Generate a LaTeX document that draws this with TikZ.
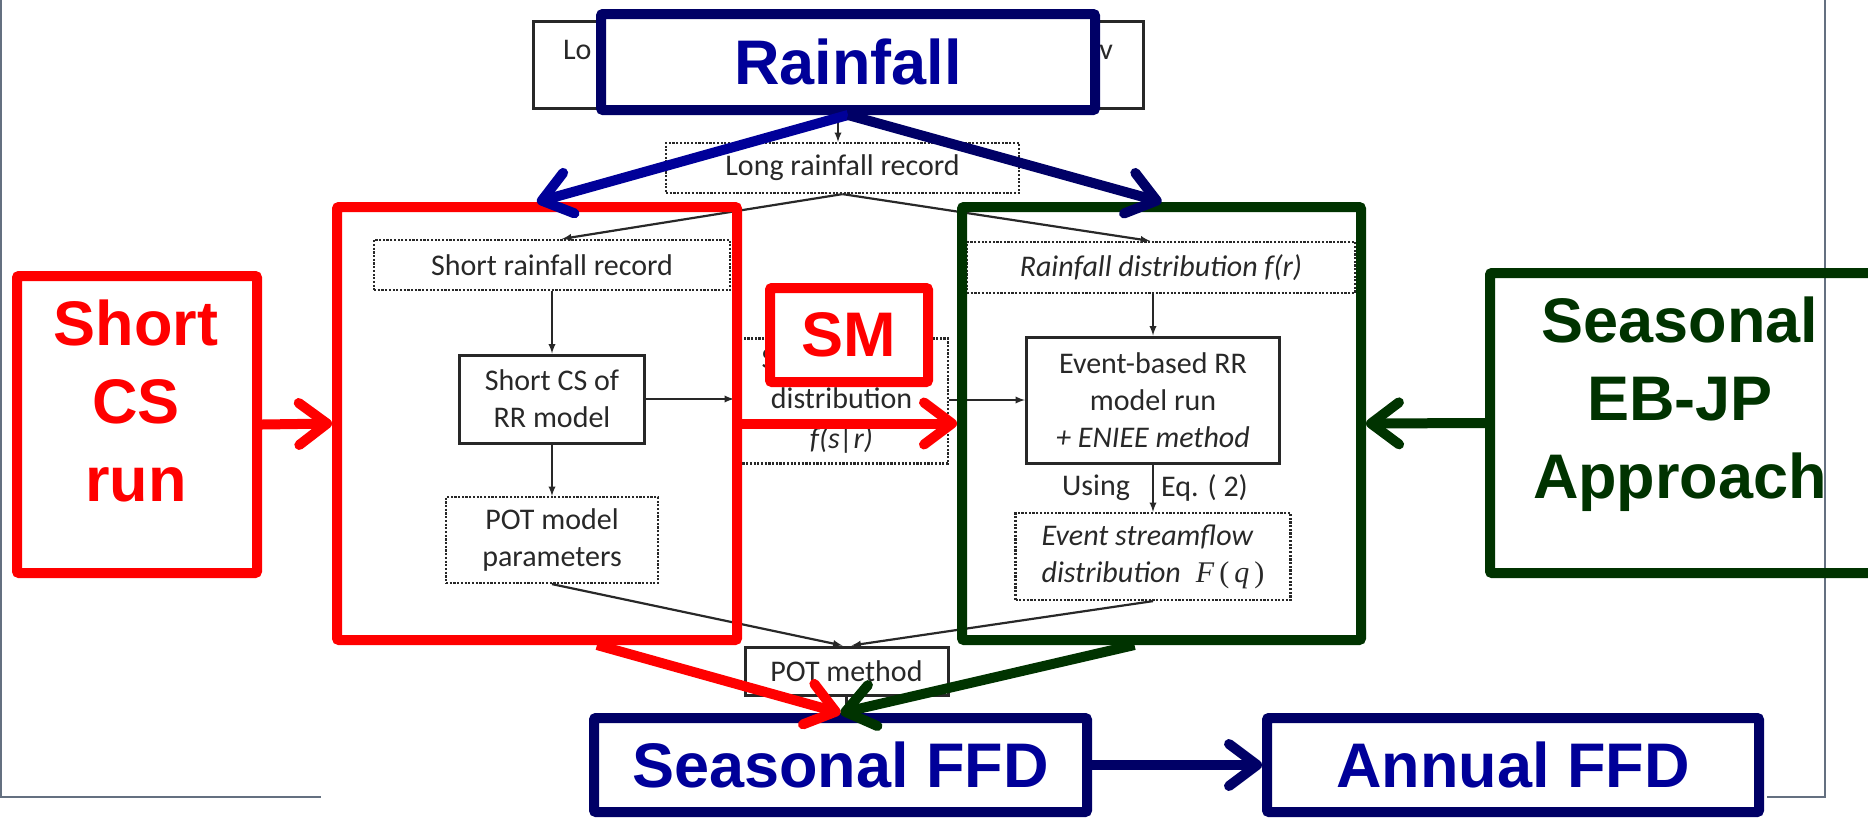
\documentclass[tikz,border=0pt]{standalone}
\usepackage{fontspec}
\setmainfont{Carlito}
\newfontfamily\ovfont{Liberation Sans}
\newfontfamily\serf{Liberation Serif}
\usepackage{tikz}
\usetikzlibrary{arrows.meta}
\usetikzlibrary{calc}

\definecolor{rfred}{RGB}{255,0,0}
\definecolor{rfgreen}{RGB}{0,51,0}
\definecolor{rfnavy}{RGB}{0,0,102}
\definecolor{rfblue}{RGB}{0,0,153}
\definecolor{ink}{RGB}{40,40,40}
\definecolor{framegray}{RGB}{100,112,128}

\begin{document}
\begin{tikzpicture}[x = 1pt, y = -1pt,
  plainbox/.style = {draw = ink, line width = 3pt, text = ink, inner sep = 0pt, align = center, font = \fontsize{30}{37}\selectfont},
  dotbox/.style = {plainbox, line width = 2.2pt, dash pattern = on 2.2pt off 1.5pt},
  bglabel/.style = {text = ink, inner sep = 0pt, font = \fontsize{30}{37}\selectfont},
  link/.style = {draw = ink, line width = 2.2pt, -latex},
  ovbox/.style = {line width = 10pt, rounded corners = 2pt, inner sep = 0pt},
  bigtext/.style = {font = \ovfont\bfseries\fontsize{63}{78}\selectfont, align = center, inner sep = 0pt},
  fat/.style = {line width = 10pt, -{Straight Barb[length = 28pt, width = 42pt, round]}}]
  \useasboundingbox (0, 0) rectangle (1868, 817);
  \draw[framegray, line width = 2pt] (1, 0) -- (1, 797) -- (321, 797);
  \draw[framegray, line width = 2pt] (1825, 0) -- (1825, 797) -- (1767, 797);

  % flowchart underneath
  \node[plainbox, minimum width = 610pt, minimum height = 87pt] at (838, 64.5) (recbox) {};
  \node[bglabel] at (838, 50) (rectxt) {\makebox[550pt]{Lo\hfill v}};
  \node[dotbox, minimum width = 353pt, minimum height = 50pt] at (842.5, 168) (longrec) {Long rainfall record};
  \node[dotbox, minimum width = 356pt, minimum height = 50pt] at (552, 265) (shortrec) {Short rainfall record};
  \node[plainbox, minimum width = 185pt, minimum height = 88pt] at (552, 399) (shortcs) {Short CS of\\RR model};
  \node[dotbox, minimum width = 212pt, minimum height = 86pt] at (552, 540) (potpar) {POT model\\parameters};
  \node[dotbox, minimum width = 213pt, minimum height = 125pt, font = \fontsize{30}{40}\selectfont] at (841.5, 401) (smdist) {\makebox[160pt][l]{S}\\distribution\\\textit{f(s|r)}};
  \node[dotbox, minimum width = 388pt, minimum height = 51pt] at (1161, 267.5) (rdist) {\textit{Rainfall distribution f(r)}};
  \node[plainbox, minimum width = 253pt, minimum height = 126pt] at (1153, 400) (evb) {Event-based RR\\model run\\\textit{+ ENIEE method}};
  \node[dotbox, minimum width = 275pt, minimum height = 87pt, align = left] at (1153, 556.5) (estr) {\textit{Event streamflow}\\\textit{distribution}\enspace{\serf\textit{F}\,(\,\textit{q}\,)}};
  \node[plainbox, minimum width = 203pt, minimum height = 48pt] at (846.5, 671) (potm) {POT method};
  \coordinate (potdown) at (846.5, 718);

  \draw[link] (recbox.south) -- (recbox.south |- longrec.north);
  \draw[link] (longrec.south) -- ([xshift = 10pt]shortrec.north);
  \draw[link] (longrec.south) -- ([xshift = -11pt]rdist.north);
  \draw[link] (shortrec) -- (shortcs);
  \draw[link] (shortcs) -- (potpar);
  \draw[link] (shortcs.east) -- (shortcs.east -| smdist.west);
  \draw[link] (smdist.east |- evb.west) -- (evb.west);
  \draw[link] (evb.north |- rdist.south) -- (evb.north);
  \draw[link] (evb.south) -- (estr.north)
    node[bglabel, midway, left = 22pt] {Using}
    node[bglabel, midway, right = 7pt] {Eq. ( 2)};
  \draw[link] (potpar.south) -- ([xshift = -4pt]potm.north);
  \draw[link] (estr.south) -- ([xshift = 5pt]potm.north);
  \draw[ink, line width = 2.2pt] (potm) -- (potdown);

  % coloured overlay
  \node[ovbox, draw = rfred, minimum width = 400pt, minimum height = 433pt] at (537, 423.5) (redgrp) {};
  \node[ovbox, draw = rfgreen, minimum width = 399pt, minimum height = 433pt] at (1161.5, 423.5) (greengrp) {};
  \node[ovbox, bigtext, draw = rfnavy, fill = white, text = rfblue, minimum width = 494pt, minimum height = 96pt] at (848, 62) (rain) {Rainfall};
  \node[ovbox, bigtext, draw = rfred, fill = white, text = rfred, minimum width = 158pt, minimum height = 94pt] at (849, 335) (sm) {SM};
  \node[ovbox, draw = rfred, minimum width = 240pt, minimum height = 297pt] at (137, 424.5) (shortrun) {};
  \node[bigtext, text = rfred] at (136, 401) (shortruntxt) {Short\\CS\\run};
  \node[ovbox, draw = rfgreen, minimum width = 386pt, minimum height = 300pt] at (1683, 423) (ebjp) {};
  \node[bigtext, text = rfgreen] at (1680, 404) (ebjptxt) {Seasonal\\EB-JP\\Approach};
  \node[ovbox, bigtext, draw = rfnavy, fill = white, text = rfblue, minimum width = 493pt, minimum height = 94pt] at (840.5, 765) (seas) {Seasonal FFD};
  \node[ovbox, bigtext, draw = rfnavy, fill = white, text = rfblue, minimum width = 492pt, minimum height = 94pt] at (1513, 765) (ann) {Annual FFD};

  \draw[fat, rfblue] (rain.south) -- (redgrp.north);
  \draw[fat, rfnavy] (rain.south) -- (greengrp.north);
  \draw[fat, rfred] (shortrun.east) -- (redgrp.west);
  \draw[fat, rfred] (redgrp.east) -- (greengrp.west);
  \draw[fat, rfgreen] (ebjp.west) -- (greengrp.east);
  \coordinate (redfoot) at ($(redgrp.south) + (60, 0)$);
  \coordinate (greenfoot) at ($(greengrp.south) + (-27, 0)$);
  \draw[fat, rfred] (redfoot) -- (seas.north);
  \draw[fat, rfgreen] (greenfoot) -- (seas.north);
  \draw[fat, rfnavy] (seas) -- (ann);
\end{tikzpicture}
\end{document}
